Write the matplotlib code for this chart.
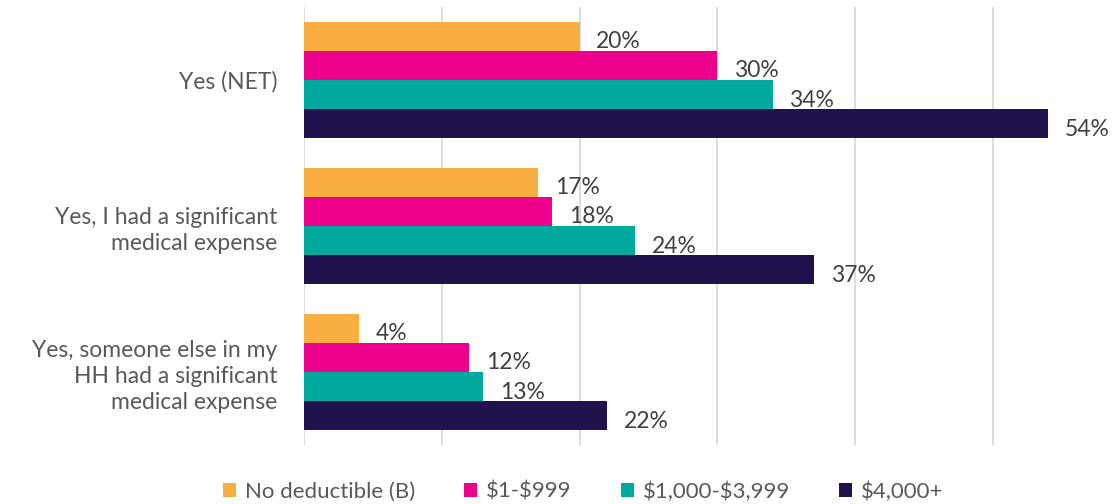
import numpy as np
import matplotlib.pyplot as plt
from matplotlib.patches import Patch

plt.rcParams['font.family'] = ['Lato', 'DejaVu Sans']
plt.rcParams['text.parse_math'] = False

categories = ["Yes (NET)",
              "Yes, I had a significant\nmedical expense",
              "Yes, someone else in my\nHH had a significant\nmedical expense"]
series = ["No deductible (B)", "$1-$999", "$1,000-$3,999", "$4,000+"]
values = [
    [20, 17, 4],
    [30, 18, 12],
    [34, 24, 13],
    [54, 37, 22],
]
colors = ["#F9AE42", "#EC008C", "#00A99D", "#20134D"]

fig = plt.figure(figsize=(11.19, 5.04), dpi=100)
ax = fig.add_axes([304 / 1119, 1 - 445 / 504, (58.5 * 13.78) / 1119, 438 / 504])

h = 0.2
y0 = np.arange(len(categories))
for i, (name, vals, c) in enumerate(zip(series, values, colors)):
    ys = y0 - 0.3 + i * h
    ax.barh(ys, vals, height=h, color=c, label=name, zorder=3)
    for y, v in zip(ys, vals):
        ax.annotate(f"{v}%", (v, y), xytext=(12, -4), textcoords="offset points",
                    va="center", ha="left", fontsize=16.5, color="#404040")

ax.set_ylim(len(categories) - 0.5, -0.5)
ax.set_xlim(0, 58.5)
ax.set_xticks([0, 10, 20, 30, 40, 50])
ax.set_xticklabels([])
ax.tick_params(length=0)
ax.grid(axis="x", color="#D9D9D9", linewidth=1.3, zorder=0)
for s in ax.spines.values():
    s.set_visible(False)
ax.set_yticks(y0)
ax.set_yticklabels(categories, fontsize=16.5, color="#595959", ha="right",
                   linespacing=1.3)
ax.tick_params(axis="y", pad=19)

handles = [Patch(facecolor=c, label=n) for n, c in zip(series, colors)]
fig.legend(handles=handles, loc="lower center", bbox_to_anchor=(0.521, -0.035),
           ncol=4, frameon=False, fontsize=16, handlelength=0.6, handleheight=0.6,
           handletextpad=0.4, columnspacing=2.2, labelcolor="#595959")

fig.savefig("out.png", dpi=100)
